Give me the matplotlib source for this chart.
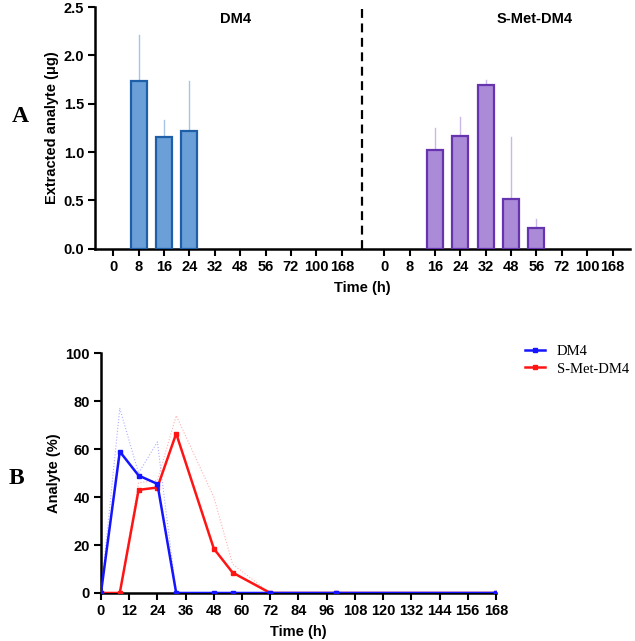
import numpy as np
import matplotlib
matplotlib.use('Agg')
import matplotlib.pyplot as plt

plt.rcParams['font.family'] = ['Liberation Sans', 'DejaVu Sans']

# panel A data
time_labels = ['0', '8', '16', '24', '32', '48', '56', '72', '100', '168']
dm4_ug = [0, 1.73, 1.16, 1.22, 0, 0, 0, 0, 0, 0]
dm4_ug_sd = [0, 0.48, 0.17, 0.52, 0, 0, 0, 0, 0, 0]
smet_ug = [0, 0, 1.02, 1.17, 1.69, 0.51, 0.21, 0, 0, 0]
smet_ug_sd = [0, 0, 0.23, 0.19, 0.06, 0.65, 0.10, 0, 0, 0]

# panel B data
times_h = [0, 8, 16, 24, 32, 48, 56, 72, 100, 168]
dm4_pct = [0, 59, 49, 45.5, 0, 0, 0, 0, 0, 0]
dm4_pct_upper = [0, 77, 50, 63, 0, 0, 0, 0, 0, 0]
smet_pct = [0, 0, 43, 44, 66.5, 18.5, 8.5, 0, 0, 0]
smet_pct_upper = [0, 0, 46, 47, 74, 40, 12, 0, 0, 0]

FS = 10.5

fig = plt.figure(figsize=(6.35, 6.41), dpi=100)

# ---- panel A ----
axA = fig.add_axes([0.150, 0.612, 0.842, 0.377])
n = len(time_labels)
x_left = np.arange(n)
x_right = np.arange(n) + 10.67
w = 0.63

lw_l = [1.6 if v > 0 else 0 for v in dm4_ug]
lw_r = [1.6 if v > 0 else 0 for v in smet_ug]
axA.bar(x_left, dm4_ug, width=w, color='#6a9fd8', edgecolor='#1f5fa8', linewidth=lw_l, zorder=3)
axA.bar(x_right, smet_ug, width=w, color='#ab8ad8', edgecolor='#6634ae', linewidth=lw_r, zorder=3)
for xs, ys, es, c in [(x_left, dm4_ug, dm4_ug_sd, '#6a9fd8'), (x_right, smet_ug, smet_ug_sd, '#a98ad8')]:
    for xi, yi, ei in zip(xs, ys, es):
        if ei > 0:
            axA.plot([xi, xi], [yi, yi + ei], color=c, lw=1.0, alpha=0.6, zorder=2)

axA.axvline(9.8, color='black', ls=(0, (4, 2.5)), lw=1.6)
axA.set_xlim(-0.71, 20.35)
axA.set_ylim(0, 2.5)
axA.set_xticks(np.concatenate([x_left, x_right]))
axA.set_xticklabels(time_labels + time_labels, fontweight='bold', fontsize=FS)
axA.set_yticks([0, 0.5, 1.0, 1.5, 2.0, 2.5])
axA.set_yticklabels(['0.0', '0.5', '1.0', '1.5', '2.0', '2.5'], fontweight='bold', fontsize=FS)
for s in ['top', 'right']:
    axA.spines[s].set_visible(False)
for s in ['left', 'bottom']:
    axA.spines[s].set_linewidth(1.8)
axA.tick_params(width=1.5, length=5, pad=3)
axA.set_ylabel('Extracted analyte (μg)', fontweight='bold', fontsize=FS, labelpad=3)
axA.set_xlabel('Time (h)', fontweight='bold', fontsize=FS, labelpad=5)
axA.text(4.8, 2.38, 'DM4', fontweight='bold', fontsize=FS, ha='center', va='center')
axA.text(16.6, 2.38, 'S-Met-DM4', fontweight='bold', fontsize=FS, ha='center', va='center')

# ---- panel B ----
axB = fig.add_axes([0.159, 0.0749, 0.622, 0.374])
axB.plot(times_h, dm4_pct_upper, color='#4a4aff', lw=0.8, ls=':', alpha=0.45)
axB.plot(times_h, smet_pct_upper, color='#ff5050', lw=0.8, ls=':', alpha=0.45)
axB.plot(times_h, dm4_pct, color='#1414ff', lw=1.8, marker='s', ms=2.2, label='DM4', zorder=4)
axB.plot(times_h, smet_pct, color='#ff1414', lw=1.8, marker='s', ms=2.2, label='S-Met-DM4', zorder=3)
axB.set_xlim(0, 168)
axB.set_ylim(0, 100)
axB.set_xticks(np.arange(0, 169, 12))
axB.set_yticks(np.arange(0, 101, 20))
for lab in axB.get_xticklabels() + axB.get_yticklabels():
    lab.set_fontweight('bold')
    lab.set_fontsize(FS)
for s in ['top', 'right']:
    axB.spines[s].set_visible(False)
for s in ['left', 'bottom']:
    axB.spines[s].set_linewidth(1.8)
axB.tick_params(width=1.5, length=5, pad=3)
axB.set_ylabel('Analyte (%)', fontweight='bold', fontsize=FS, labelpad=3)
axB.set_xlabel('Time (h)', fontweight='bold', fontsize=FS, labelpad=5)
axB.legend(loc='upper left', bbox_to_anchor=(1.04, 1.09), frameon=False,
           prop={'family': 'Liberation Serif', 'size': 10.5}, handlelength=1.4,
           labelspacing=0.3)

fig.text(0.019, 0.818, 'A', fontfamily='Liberation Serif', fontweight='bold', fontsize=17, va='center')
fig.text(0.013, 0.253, 'B', fontfamily='Liberation Serif', fontweight='bold', fontsize=17, va='center')

fig.savefig('out.png', dpi=100)
